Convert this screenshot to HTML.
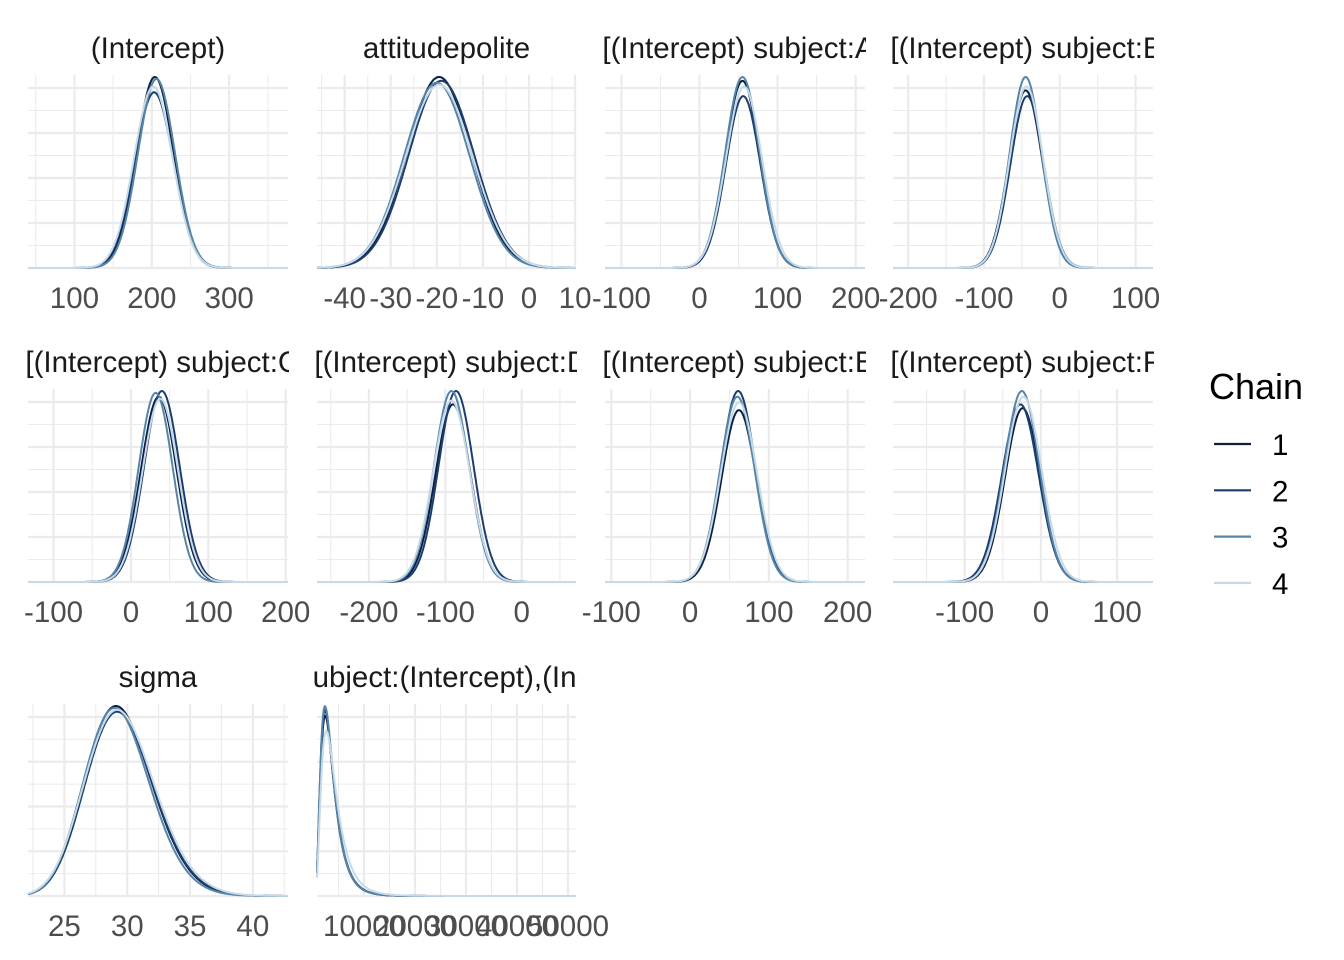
<!DOCTYPE html>
<html><head><meta charset="utf-8"><style>
body{margin:0;background:#fff;}
svg{display:block;font-family:"Liberation Sans",Arial,sans-serif;}
</style></head><body>
<svg id="chart" width="1344" height="960" viewBox="0 0 1344 960"></svg>
<script>
// ---- data ----
const panelTitles = ["(Intercept)","attitudepolite","b[(Intercept) subject:A]","b[(Intercept) subject:B]",
  "b[(Intercept) subject:C]","b[(Intercept) subject:D]","b[(Intercept) subject:E]","b[(Intercept) subject:F]",
  "sigma","Sigma[subject:(Intercept),(Intercept)]"];
const xDomains = [[40,376],[-46,10.2],[-121,212],[-220,123],[-133,203],[-268,71],[-108,222],[-194,147],[22.1,42.8],[784,51570]];
const xTicks = [[100,200,300],[-40,-30,-20,-10,0,10],[-100,0,100,200],[-200,-100,0,100],[-100,0,100,200],[-200,-100,0],[-100,0,100,200],[-100,0,100],[25,30,35,40],[10000,20000,30000,40000,50000]];
const distType = ["norm","norm","norm","norm","norm","norm","norm","norm","lognorm","lognorm"];
// per chain: chain 1..4 centers (mode), spreads, peak heights (relative)
const chainCenters = [[204,203,206,202],[-19.5,-19,-20,-19.5],[55,56,55,57],[-45,-43,-45,-44],[36,40,32,38],[-90,-86,-92,-92],[62,61,60,62],[-24,-27,-25,-23],[29.1,29.2,29.0,29.2],[2400,2350,2350,2600]];
const chainSpreads = [[24,25,24,25],[7.0,7.1,7.1,7.3],[22,22,22,23],[22,22,21,22],[23,23,22,23],[23,23,23,24],[22,22,22,23],[23,24,23,24],[0.092,0.092,0.09,0.095],[0.55,0.55,0.55,0.57]];
const chainPeaks = [[1,0.92,0.99,0.95],[1,0.98,0.97,0.96],[0.98,0.9,1,0.95],[0.93,0.9,1,0.95],[0.97,1,0.99,0.96],[0.93,1,1,0.95],[0.9,1,0.97,0.94],[0.91,0.93,1,0.97],[1,0.97,0.99,0.98],[0.95,0.98,1,0.87]];
const chainColors = ["#0b1f45","#1c3d6e","#5785a8","#c6dae7"];
const chainLabels = ["1","2","3","4"];

// ---- layout ----
const colX = [[28,288],[317,576],[605,865],[893,1153]];
const rowY = [[75,268],[389,582],[704,896]];
const titleY = [58,372,687];
const tickY = [308,622,936];
const FS = 29.5;
const NS = "http://www.w3.org/2000/svg";
const svg = document.getElementById("chart");
function mk(tag, attrs, parent){const e=document.createElementNS(NS,tag);for(const k in attrs)e.setAttribute(k,attrs[k]);(parent||svg).appendChild(e);return e;}
const defs = mk("defs",{});

function dens(type,x,c,s){
  if(type==="norm"){return Math.exp(-0.5*((x-c)/s)**2);}
  if(x<=0) return 0;
  const mu=Math.log(c)+s*s; // mode c
  const v=Math.exp(-((Math.log(x)-mu)**2)/(2*s*s))/x;
  const vm=Math.exp(-((Math.log(c)-mu)**2)/(2*s*s))/c;
  return v/vm;
}

panelTitles.forEach((title,p)=>{
  const r=Math.floor(p/4), c=p%4;
  const [x0,x1]=colX[c], [yt,yb]=rowY[r];
  const [d0,d1]=xDomains[p];
  const sx=v=>x0+(v-d0)/(d1-d0)*(x1-x0);
  const g=mk("g",{});
  
  
  const step=(yb-yt-13)/8;
  for(let k=0;k<=8;k++){
    const y=yb-k*step;
    const l=mk("line",{x1:x0,x2:x1,y1:y,y2:y,stroke:"#ebebeb","stroke-width":k%2?1.1:2.2},g);
    
    
  }
  const ticks=xTicks[p], td=ticks[1]-ticks[0];
  for(let v=ticks[0]-td*4; v<=ticks[ticks.length-1]+td*4; v+=td/2){
    const x=sx(v); if(x<x0-0.5||x>x1+0.5) continue;
    const major=Math.abs(((v-ticks[0])/td)%1)<1e-6;
    const l=mk("line",{x1:x,x2:x,y1:yt,y2:yb,stroke:"#ebebeb","stroke-width":major?2.2:1.1},g);
    
    
  }
  ticks.forEach(v=>{
    const t=mk("text",{x:sx(v),y:tickY[r],"text-anchor":"middle","font-size":FS,fill:"#4d4d4d"},g);
    t.textContent=v;
    
    
  });
  const cid="clip"+p;
  const cp=mk("clipPath",{id:cid},defs);
  mk("rect",{x:x0-3,y:titleY[r]-35,width:x1-x0+4,height:45},cp);
  let tx=(x0+x1)/2, anchor="middle";
  if(p>=2&&p<=7){tx=x0-19; anchor="start";}
  if(p===9){tx=206; anchor="start";}
  const t=mk("text",{x:tx,y:titleY[r],"text-anchor":anchor,"font-size":FS,fill:"#1a1a1a","clip-path":"url(#"+cid+")"},g);
  t.textContent=title;
  
  
  const maxPeak=Math.max(...chainPeaks[p]);
  const sy=v=>yb-v/maxPeak*(yb-yt-2);
  for(let ch=0;ch<4;ch++){
    let pts=[];
    for(let i=0;i<=300;i++){
      const v=d0+(d1-d0)*i/300;
      const dv=dens(distType[p],v,chainCenters[p][ch],chainSpreads[p][ch])*chainPeaks[p][ch];
      pts.push(sx(v).toFixed(1)+","+sy(dv).toFixed(1));
    }
    const pl=mk("polyline",{points:pts.join(" "),fill:"none",stroke:chainColors[ch],"stroke-width":2,"stroke-linejoin":"round"},g);
    
    
  }
});

const lg=mk("g",{});


const lt=mk("text",{x:1209,y:399,"font-size":36,fill:"#000"},lg);
lt.textContent="Chain";


chainLabels.forEach((lab,i)=>{
  const y=444+i*46.3;
  const l=mk("line",{x1:1214,x2:1251,y1:y,y2:y,stroke:chainColors[i],"stroke-width":2.2},lg);
  
  
  const t=mk("text",{x:1272,y:y+11,"font-size":FS,fill:"#000"},lg);
  t.textContent=lab;
  
  
});
</script>
</body></html>
